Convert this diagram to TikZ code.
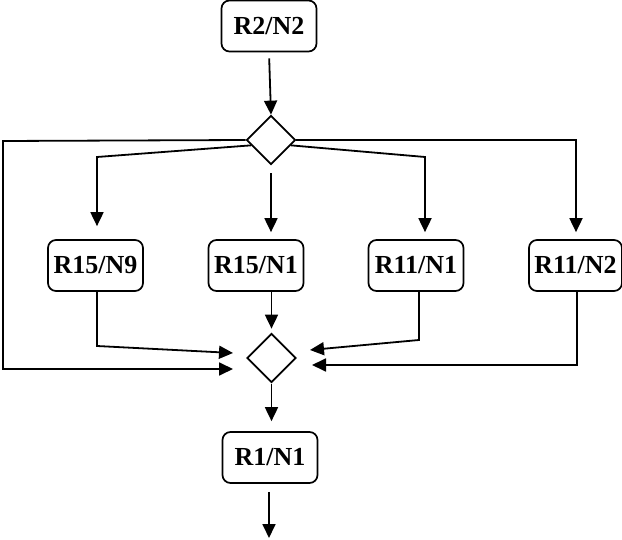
\documentclass[tikz,border=0pt]{standalone}
\usepackage{fontspec}
\setmainfont{Liberation Serif}
\usepackage{tikz}
\usetikzlibrary{arrows.meta,shapes.geometric,calc}

\tikzset{
  flowbox/.style={draw, rounded corners=8pt, line width=1.7pt, minimum width=95pt,
    minimum height=51pt, inner sep=0pt, font=\bfseries\fontsize{26}{30}\selectfont},
  decision/.style={draw, diamond, line width=1.7pt, minimum width=49pt,
    minimum height=49pt, inner sep=0pt},
  flow/.style={->, line width=1.8pt}
}

\begin{document}
\begin{tikzpicture}[x=1pt, y=-1pt, >={Triangle[length=14pt,width=13pt]}]
  \useasboundingbox (0,0) rectangle (622,540);
  % boxes and decisions
  \node[flowbox] (r2n2) at (269,26) {R2/N2};
  \node[decision] (d1) at (271,140) {};
  \node[flowbox] (r15n9) at (95.5,265.5) {R15/N9};
  \node[flowbox] (r15n1) at (256,265.5) {R15/N1};
  \node[flowbox] (r11n1) at (416,265.5) {R11/N1};
  \node[flowbox, minimum width=93pt] (r11n2) at (575.5,265.5) {R11/N2};
  \node[decision] (d2) at (271.5,358) {};
  \node[flowbox] (r1n1) at (270,457.5) {R1/N1};
  % bends and free ends
  \coordinate (lt) at (3,141);
  \coordinate (lb) at (3,369);
  \coordinate (e1) at (97,157);
  \coordinate (e3) at (425,157);
  \coordinate (e4) at (576,140);
  \coordinate (f1) at (97,346);
  \coordinate (f3) at (419,340);
  \coordinate (f4) at (577,365);
  \coordinate (in1) at (233,353);
  \coordinate (in2) at (233,369);
  \coordinate (in3) at (310,350);
  \coordinate (in4) at (312,365);
  \coordinate (out) at (269,538);
  % top part
  \draw[flow, shorten <=6pt] (r2n2.south) -- (d1.north);
  \draw[flow] (d1.west) -- (lt) -- (lb) -- (in2);
  \draw[flow, shorten >=13pt] (d1.195) -- (e1) -- (e1 |- r15n9.north);
  \draw[flow, shorten <=8pt, shorten >=7pt] (d1.south) -- (d1.south |- r15n1.north);
  \draw[flow, shorten >=7pt] (d1.-15) -- (e3) -- (e3 |- r11n1.north);
  \draw[flow, shorten >=7pt] (d1.east) -- (e4) -- (e4 |- r11n2.north);
  % bottom part
  \draw[flow] (r15n9.south -| f1) -- (f1) -- (in1);
  \draw[flow, shorten >=4pt] (r15n1.south -| d2.north) -- (d2.north);
  \draw[flow] (r11n1.south -| f3) -- (f3) -- (in3);
  \draw[flow] (r11n2.south -| f4) -- (f4) -- (in4);
  \draw[flow, shorten <=1pt, shorten >=10pt] (d2.south) -- (d2.south |- r1n1.north);
  \draw[flow, shorten <=8pt] (r1n1.south -| out) -- (out);
\end{tikzpicture}
\end{document}
